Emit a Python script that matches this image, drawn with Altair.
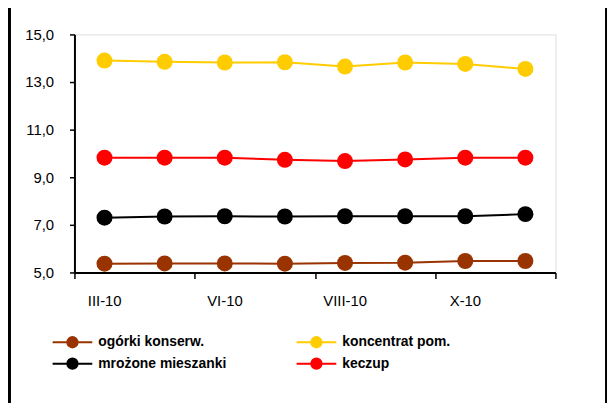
import altair as alt
import pandas as pd

months = ["III-10", "V-10", "VI-10", "VII-10", "VIII-10", "IX-10", "X-10", "XI-10"]
series_names = ["ogórki konserw.", "koncentrat pom.", "mrożone mieszanki", "keczup"]
series_colors = ["#993300", "#FFCC00", "#000000", "#FF0000"]

ogorki = [5.37, 5.38, 5.38, 5.37, 5.40, 5.41, 5.48, 5.48]
koncentrat = [13.90, 13.85, 13.82, 13.83, 13.65, 13.82, 13.76, 13.55]
mrozone = [7.30, 7.35, 7.36, 7.35, 7.36, 7.36, 7.36, 7.45]
keczup = [9.82, 9.82, 9.82, 9.73, 9.68, 9.75, 9.82, 9.82]

x_tick_positions = [-0.5, 1.5, 3.5, 5.5, 7.5]
x_tick_labels = ["III-10", "VI-10", "VIII-10", "X-10", ""]
y_ticks = [5, 7, 9, 11, 13, 15]

rows = []
for name, vals in zip(series_names, [ogorki, koncentrat, mrozone, keczup]):
    for i, (m, v) in enumerate(zip(months, vals)):
        rows.append({"series": name, "idx": i, "month": m, "value": v})
df = pd.DataFrame(rows)

x_label_expr = "".join(
    f"datum.value == {p} ? '{l}' : " for p, l in zip(x_tick_positions, x_tick_labels)
) + "''"

FONT = "Liberation Sans, Arial"

x_enc = alt.X(
    "idx:Q",
    scale=alt.Scale(domain=[-0.5, 7.5], nice=False, zero=False),
    axis=alt.Axis(
        values=x_tick_positions, labelExpr=x_label_expr, labelOffset=30,
        labelFlush=False, title=None, grid=False, domainColor="black",
        domainWidth=2, tickColor="black", tickSize=6, tickWidth=1.5,
        labelPadding=15, labelFontSize=15, labelFont=FONT, labelColor="black",
    ),
)
y_enc = alt.Y(
    "value:Q",
    scale=alt.Scale(domain=[5, 15], nice=False, zero=False),
    axis=alt.Axis(
        values=y_ticks, labelExpr="replace(format(datum.value, '.1f'), '.', ',')",
        title=None, grid=False, domainColor="black", domainWidth=2,
        tickColor="black", tickSize=5, tickWidth=1.5, labelPadding=16,
        labelFontSize=15, labelFont=FONT, labelColor="black",
    ),
)

sym_path = "M-3,0L3,0M-0.78,0A0.78,0.78,0,1,0,0.78,0A0.78,0.78,0,1,0,-0.78,0Z"
legend = alt.Legend(
    title=None, orient="none", legendX=-10, legendY=302, columns=2,
    direction="horizontal",
    symbolType=sym_path, symbolSize=178, symbolStrokeWidth=2,
    labelFont=FONT, labelFontSize=14, labelFontWeight="bold", labelColor="black",
    labelOffset=18, columnPadding=65, rowPadding=2, labelLimit=400, padding=0,
)
scale = alt.Scale(domain=series_names, range=series_colors)

lines = alt.Chart(df).mark_line(strokeWidth=2).encode(
    x=x_enc, y=y_enc, stroke=alt.Stroke("series:N", scale=scale, legend=legend),
    detail="series:N",
)
points = alt.Chart(df).mark_point(filled=True, size=260, opacity=1).encode(
    x=x_enc, y=y_enc, fill=alt.Fill("series:N", scale=scale, legend=legend),
)

frame_data = alt.Data(values=[{"k": 1}])
frame_left = alt.Chart(frame_data).mark_rule(color="black", strokeWidth=3).encode(
    x=alt.value(-65.5), y=alt.value(-40), y2=alt.value(420)
)
frame_right = alt.Chart(frame_data).mark_rule(color="black", strokeWidth=2).encode(
    x=alt.value(536), y=alt.value(-40), y2=alt.value(420)
)

chart = alt.layer(lines, points, frame_left, frame_right).properties(
    width=485, height=240,
    autosize=alt.AutoSizeParams(type="none"),
    padding={"left": 67, "top": 25, "right": 53, "bottom": 130},
).configure_view(stroke=None).configure(background="white")

chart.save("out.html", embed_options={"renderer": "svg", "actions": False})
